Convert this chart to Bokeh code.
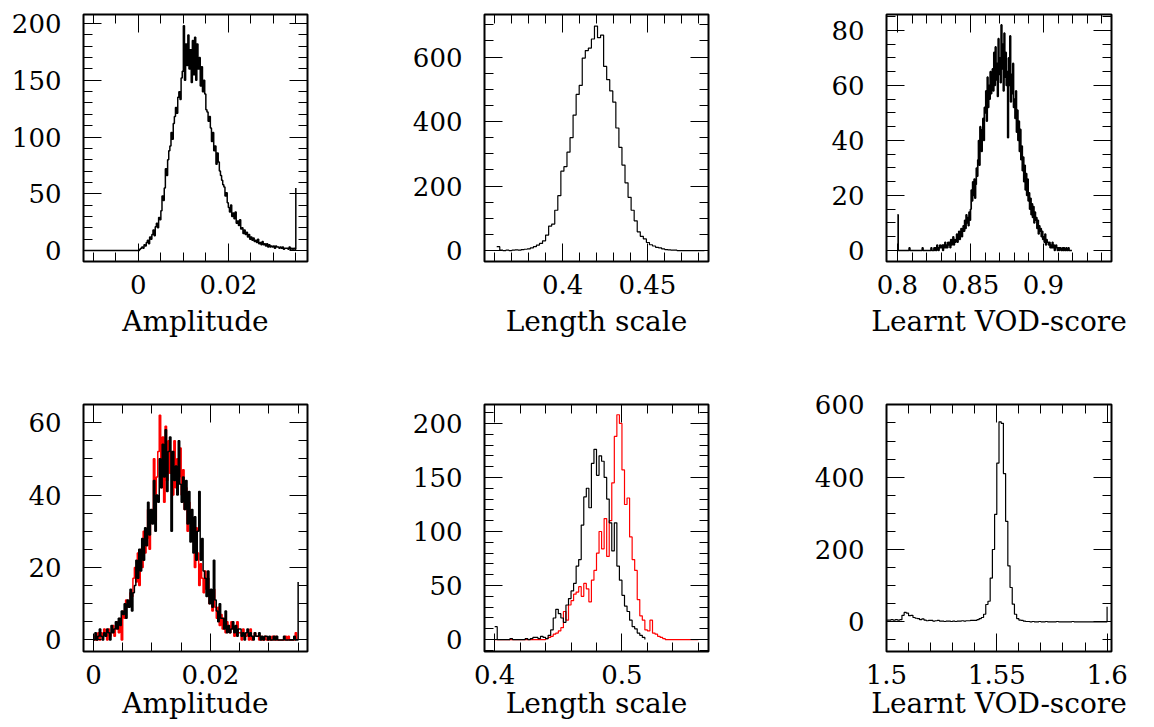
import numpy as np
from bokeh.plotting import figure
from bokeh.layouts import row, column
from bokeh.models import Range1d, FixedTicker, LinearAxis, CustomJSTickFormatter
from bokeh.embed import file_html
from bokeh.resources import INLINE

FONT = "DejaVu Serif"

# ---------------- data ----------------
# Panel 1: Amplitude (top)
amp_top_start = -0.012
amp_top_width = 0.00025
amp_top_counts = [0] * 48 + [
    0, 1, 2, 3, 2, 5, 4, 7, 9, 6, 12, 10, 14, 18, 13, 21, 24, 20, 29, 27,
    35, 48, 44, 55, 72, 66, 80, 88, 92, 104, 98, 112, 118, 126, 121, 135,
    140, 133, 152, 158, 198, 150, 182, 163, 190, 160, 177, 148, 185, 155, 188, 150,
    182, 160, 170, 145, 162, 140, 150, 138, 124, 122, 114, 118, 108, 96, 104, 88,
    92, 76, 86, 78, 70, 66, 62, 58, 56, 48, 51, 42, 38, 34, 40, 30, 33, 28, 34, 24,
    26, 22, 27, 19, 20, 15, 18, 14, 16, 12, 14, 10, 12, 9, 11, 8, 9, 7, 10, 6,
    7, 5, 8, 5, 6, 4, 6, 3, 5, 3, 4, 3, 4, 2, 4, 3, 3, 2, 3, 2, 3, 1, 2, 2,
    2, 1, 3, 1, 2, 1, 2, 1, 55]

# Panel 2: Length scale (top)
len_top_start = 0.3612
len_top_width = 0.0018
len_top_counts = [
    12, 1, 0, 1, 0, 1, 2, 1, 3, 4, 5, 8, 12, 17, 22, 30, 48, 76, 82, 125,
    170, 246, 260, 305, 350, 420, 484, 512, 597, 620, 628, 656, 696, 660, 668, 571, 530, 495, 460, 380,
    320, 265, 210, 165, 125, 92, 58, 44, 36, 25, 18, 14, 10, 8, 5, 3, 2, 1, 1, 0,
    0, 0, 0, 0, 0, 0, 0, 0, 0]

# Panel 3: Learnt VOD-score (top)
vod_top_start = 0.8
vod_top_width = 0.0005
vod_top_counts = [
    13, 0, 0, 0, 0, 0, 0, 0, 0, 0,
    0, 0, 0, 0, 0, 0, 1, 0, 0, 0,
    0, 0, 0, 0, 0, 0, 0, 0, 0, 0,
    0, 0, 0, 0, 1, 0, 0, 0, 0, 0,
    0, 0, 0, 0, 0, 0, 1, 0, 0, 0,
    1, 0, 1, 0, 2, 1, 0, 1, 2, 1,
    1, 2, 0, 2, 1, 3, 1, 2, 1, 3,
    2, 3, 1, 4, 2, 3, 5, 2, 4, 3,
    4, 6, 3, 5, 7, 4, 6, 8, 5, 7,
    9, 7, 11, 8, 13, 10, 12, 9, 14, 11,
    15, 22, 18, 25, 20, 26, 19, 24, 30, 27,
    33, 40, 31, 45, 38, 36, 44, 48, 40, 52,
    50, 58, 47, 63, 52, 60, 55, 65, 57, 62,
    66, 58, 72, 60, 74, 62, 68, 56, 77, 64,
    70, 61, 82, 66, 75, 58, 79, 63, 72, 60,
    65, 41, 70, 60, 78, 54, 64, 57, 68, 52,
    55, 48, 58, 43, 51, 40, 47, 36, 44, 33,
    38, 29, 34, 25, 31, 22, 28, 20, 26, 18,
    21, 15, 19, 13, 17, 12, 16, 10, 14, 11,
    12, 8, 11, 6, 9, 7, 8, 5, 7, 4,
    5, 3, 6, 2, 4, 3, 3, 2, 3, 1,
    2, 1, 3, 1, 2, 0, 1, 2, 1, 0,
    1, 0, 1, 1, 0, 0, 1, 0, 1, 0,
    0, 1, 0, 0, 1, 0, 0, 0, 0, 0]

# Panel 4: Amplitude (bottom), two runs
amp_bot_start = 0.0
amp_bot_width = 0.00025
amp_bot_black = [
    0, 2, 0, 1, 3, 1, 0, 2, 1, 3, 2, 0, 4, 2, 3, 5, 3, 6, 4, 8,
    7, 10, 6, 11, 9, 14, 8, 13, 15, 22, 17, 25, 19, 28, 22, 31, 26, 38, 29, 36,
    32, 44, 30, 40, 38, 50, 42, 54, 45, 58, 41, 52, 56, 30, 52, 44, 48, 40, 55, 43,
    38, 45, 36, 44, 32, 41, 27, 36, 24, 34, 22, 30, 41, 22, 28, 19, 17, 12, 19, 10,
    14, 9, 22, 11, 8, 5, 10, 6, 6, 3, 8, 2, 4, 2, 3, 5, 2, 4, 1, 3,
    3, 1, 2, 0, 2, 3, 1, 2, 1, 0, 2, 1, 1, 2, 0, 1, 0, 1, 1, 0,
    1, 0, 0, 1, 0, 1, 0, 0, 0, 0, 1, 0, 0, 0, 0, 0, 0, 1, 0, 0, 16]
amp_bot_red = [
    1, 0, 0, 2, 0, 2, 1, 3, 2, 0, 3, 1, 2, 4, 1, 3, 5, 2, 6, 0,
    8, 6, 11, 9, 10, 13, 12, 17, 20, 16, 24, 15, 25, 20, 30, 24, 28, 36, 25, 34,
    36, 50, 33, 45, 52, 62, 42, 56, 38, 59, 44, 55, 46, 52, 40, 55, 42, 50, 45, 53,
    40, 47, 36, 42, 30, 38, 33, 28, 27, 20, 31, 24, 15, 21, 17, 13, 19, 14, 17, 10,
    12, 8, 14, 9, 6, 9, 4, 7, 3, 6, 2, 5, 4, 2, 5, 3, 1, 3, 5, 2,
    2, 0, 3, 1, 1, 2, 0, 3, 0, 1, 2, 1, 1, 0, 1, 0, 0, 1, 0, 0,
    0, 0, 1, 0, 1, 0, 0, 0, 0, 0, 0, 1, 0, 1, 0, 0, 0, 0, 2, 0]

# Panel 5: Length scale (bottom), two runs
len_bot_start = 0.4
len_bot_width = 0.002
len_bot_black = [
    12, 0, 0, 0, 0, 0, 1, 0, 0, 0, 0, 0, 1, 0, 1, 2, 2, 1, 3, 2,
    1, 4, 9, 20, 28, 24, 20, 16, 32, 38, 45, 52, 68, 74, 106, 132, 140, 122, 163, 176,
    152, 170, 165, 150, 130, 108, 82, 108, 68, 55, 41, 31, 26, 18, 12, 10, 6, 4, 2, 0]
len_bot_red = [
    0, 0, 0, 0, 0, 0, 0, 0, 0, 0, 0, 0, 0, 0, 0, 0, 0, 0, 0, 0,
    1, 2, 3, 5, 6, 8, 11, 26, 18, 32, 36, 42, 44, 49, 40, 52, 47, 35, 55, 64,
    80, 100, 84, 112, 77, 110, 145, 188, 208, 200, 157, 125, 131, 95, 74, 64, 37, 22, 18, 9,
    8, 18, 6, 5, 3, 2, 1, 0, 0, 0, 0, 0, 0, 0, 0, 0, 0, 0, 0, 0, 0]

# Panel 6: Learnt VOD-score (bottom)
vod_bot_start = 1.5
vod_bot_width = 0.001
vod_bot_counts = [
    5, 5, 6, 5, 6, 5, 6, 18, 26, 24, 17, 18, 12, 10, 9, 6, 8, 5, 3, 4,
    4, 2, 3, 4, 2, 2, 1, 2, 2, 1, 2, 1, 2, 2, 3, 2, 3, 3, 4, 4,
    4, 6, 9, 12, 21, 48, 57, 121, 200, 297, 439, 553, 549, 410, 278, 155, 95, 49, 21, 9,
    5, 4, 2, 1, 1, 0, 1, 0, 0, 1, 0, 0, 1, 0, 0, 0, 0, 1, 0, 0,
    0, 0, 0, 0, 1, 0, 0, 0, 0, 0, 0, 0, 0, 0, 0, 0, 0, 0, 0, 0, 42]

# axis ticks
amp_top_xmajor = [0, 0.02]
amp_top_xminor = [-0.01, -0.005, 0.005, 0.01, 0.015, 0.025, 0.03, 0.035]
amp_top_ymajor = [0, 50, 100, 150, 200]
amp_top_yminor = [10, 20, 30, 40, 60, 70, 80, 90, 110, 120, 130, 140, 160, 170, 180, 190]
len_top_xmajor = [0.4, 0.45]
len_top_xminor = [0.36, 0.37, 0.38, 0.39, 0.41, 0.42, 0.43, 0.44, 0.46, 0.47, 0.48]
len_top_ymajor = [0, 200, 400, 600]
len_top_yminor = [50, 100, 150, 250, 300, 350, 450, 500, 550, 650, 700]
vod_top_xmajor = [0.8, 0.85, 0.9]
vod_top_xminor = [0.81, 0.82, 0.83, 0.84, 0.86, 0.87, 0.88, 0.89, 0.91, 0.92, 0.93, 0.94]
vod_top_ymajor = [0, 20, 40, 60, 80]
vod_top_yminor = [5, 10, 15, 25, 30, 35, 45, 50, 55, 65, 70, 75, 85]
amp_bot_xmajor = [0, 0.02]
amp_bot_xminor = [0.005, 0.01, 0.015, 0.025, 0.03, 0.035]
amp_bot_ymajor = [0, 20, 40, 60]
amp_bot_yminor = [5, 10, 15, 25, 30, 35, 45, 50, 55, 65]
len_bot_xmajor = [0.4, 0.5]
len_bot_xminor = [0.42, 0.44, 0.46, 0.48, 0.52, 0.54, 0.56]
len_bot_ymajor = [0, 50, 100, 150, 200]
len_bot_yminor = [-10, 10, 20, 30, 40, 60, 70, 80, 90, 110, 120, 130, 140,
                  160, 170, 180, 190, 210]
vod_bot_xmajor = [1.5, 1.55, 1.6]
vod_bot_xminor = [1.51, 1.52, 1.53, 1.54, 1.56, 1.57, 1.58, 1.59]
vod_bot_ymajor = [0, 200, 400, 600]
vod_bot_yminor = [-50, 50, 100, 150, 250, 300, 350, 450, 500, 550]


def edges(start, width, counts):
    return start + width * np.arange(len(counts))


def style_axis(ax, labelled, standoff=19):
    ax.major_tick_in = 18
    ax.major_tick_out = 0
    ax.minor_tick_in = 9
    ax.minor_tick_out = 0
    ax.major_tick_line_color = "black"
    ax.minor_tick_line_color = "black"
    ax.major_tick_line_width = 1
    ax.minor_tick_line_width = 1
    ax.axis_line_color = None
    if labelled:
        ax.formatter = CustomJSTickFormatter(code="return tick.toString();")
        ax.major_label_text_font = FONT
        ax.major_label_text_font_size = "26px"
        ax.major_label_text_color = "black"
        ax.major_label_standoff = standoff
    else:
        ax.formatter = CustomJSTickFormatter(code="return '';")
        ax.major_label_text_font_size = "0px"
        ax.major_label_standoff = 0


def panel(xr, yr, xmaj, xmin, ymaj, ymin, xlabel, fw, fh, bl, br, bt, bb, lab_standoff):
    p = figure(frame_width=fw, frame_height=fh,
               x_range=Range1d(*xr), y_range=Range1d(*yr),
               output_backend="svg", toolbar_location=None,
               min_border_left=bl, min_border_right=br,
               min_border_top=bt, min_border_bottom=bb)
    p.grid.visible = False
    p.background_fill_color = "white"
    p.border_fill_color = "white"
    p.outline_line_color = "black"
    p.outline_line_width = 2
    bottom = p.xaxis[0]
    left = p.yaxis[0]
    bottom.ticker = FixedTicker(ticks=xmaj, minor_ticks=xmin)
    left.ticker = FixedTicker(ticks=ymaj, minor_ticks=ymin)
    style_axis(bottom, True, 13)
    style_axis(left, True, 22)
    bottom.axis_label = xlabel
    bottom.axis_label_text_font = FONT
    bottom.axis_label_text_font_size = "28px"
    bottom.axis_label_text_font_style = "normal"
    bottom.axis_label_text_color = "black"
    bottom.axis_label_standoff = lab_standoff
    top = LinearAxis(ticker=FixedTicker(ticks=xmaj, minor_ticks=xmin))
    right = LinearAxis(ticker=FixedTicker(ticks=ymaj, minor_ticks=ymin))
    style_axis(top, False)
    style_axis(right, False)
    p.add_layout(top, "above")
    p.add_layout(right, "right")
    return p


FH = 247
LW = 1.2      # thin step lines
LWD = 1.5     # dense, noisy histograms
# row 1  (page has no margin: figures start at 0,0)
p1 = panel((-0.0122, 0.0376), (-9.7, 208), amp_top_xmajor, amp_top_xminor,
           amp_top_ymajor, amp_top_yminor, "Amplitude", 224, FH, 83, 93, 14, 129, 8)
p1.step(edges(amp_top_start, amp_top_width, amp_top_counts), amp_top_counts,
        mode="after", line_color="black", line_width=LWD)

p2 = panel((0.354, 0.486), (-34, 732), len_top_xmajor, len_top_xminor,
           len_top_ymajor, len_top_yminor, "Length scale", 224, FH, 84, 92, 14, 129, 8)
p2.step(edges(len_top_start, len_top_width, len_top_counts), len_top_counts,
        mode="after", line_color="black", line_width=LW)

p3 = panel((0.7925, 0.9466), (-4, 85.8), vod_top_xmajor, vod_top_xminor,
           vod_top_ymajor, vod_top_yminor, "Learnt VOD-score", 225, FH, 86, 43, 14, 129, 8)
p3.step(edges(vod_top_start, vod_top_width, vod_top_counts), vod_top_counts,
        mode="after", line_color="black", line_width=1.7)

# row 2
p4 = panel((-0.0017, 0.0366), (-3.2, 65.0), amp_bot_xmajor, amp_bot_xminor,
           amp_bot_ymajor, amp_bot_yminor, "Amplitude", 224, FH, 83, 93, 14, 76, 0)
p4.step(edges(amp_bot_start, amp_bot_width, amp_bot_red), amp_bot_red,
        mode="after", line_color="#ff0000", line_width=LWD)
p4.step(edges(amp_bot_start, amp_bot_width, amp_bot_black), amp_bot_black,
        mode="after", line_color="black", line_width=LWD)

p5 = panel((0.392, 0.568), (-11, 217.5), len_bot_xmajor, len_bot_xminor,
           len_bot_ymajor, len_bot_yminor, "Length scale", 224, FH, 84, 92, 14, 76, 0)
p5.step(edges(len_bot_start, len_bot_width, len_bot_red), len_bot_red,
        mode="after", line_color="#ff0000", line_width=LW)
p5.step(edges(len_bot_start, len_bot_width, len_bot_black), len_bot_black,
        mode="after", line_color="black", line_width=LW)

p6 = panel((1.5, 1.602), (-82, 601), vod_bot_xmajor, vod_bot_xminor,
           vod_bot_ymajor, vod_bot_yminor, "Learnt VOD-score", 225, FH, 86, 43, 14, 76, 0)
p6.step(edges(vod_bot_start, vod_bot_width, vod_bot_counts), vod_bot_counts,
        mode="after", line_color="black", line_width=LW)

layout = column(row(p1, p2, p3), row(p4, p5, p6))
open("out.html", "w").write(file_html(layout, INLINE))
